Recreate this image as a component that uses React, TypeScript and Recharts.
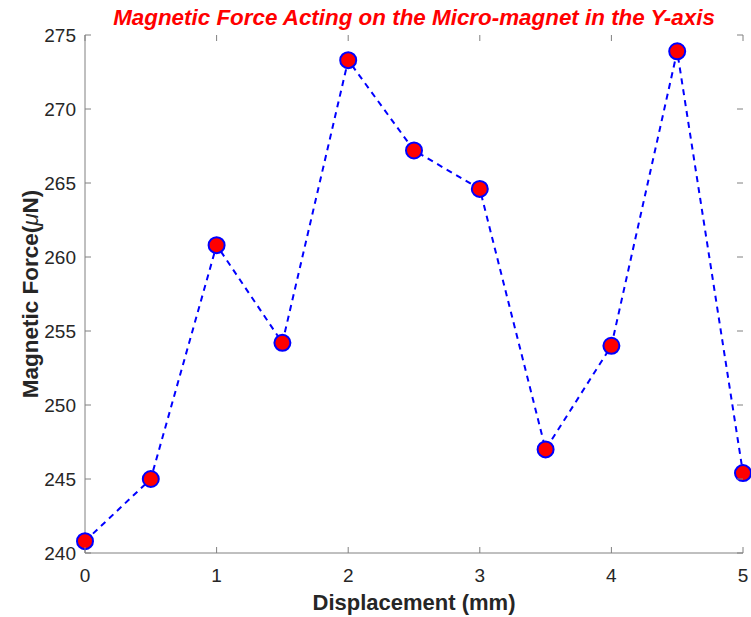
import { Label, Line, LineChart, XAxis, YAxis } from "recharts"

const displacement = [0, 0.5, 1, 1.5, 2, 2.5, 3, 3.5, 4, 4.5, 5]
const force = [240.8, 245.0, 260.8, 254.2, 273.3, 267.2, 264.6, 247.0, 254.0, 273.9, 245.4]
const xTicks = [0, 1, 2, 3, 4, 5]
const yTicks = [240, 245, 250, 255, 260, 265, 270, 275]

const data = displacement.map((d, i) => ({ d, f: force[i] }))

const W = 751
const H = 617
const LEFT = 85
const TOP = 35
const RIGHT = 8
const BOTTOM = 64
const PW = W - LEFT - RIGHT
const PH = H - TOP - BOTTOM
const AXIS = "#808080"
const TEXT = "#262626"
const FONT = "'Liberation Sans', Arial, Helvetica, sans-serif"

function XTick(props: any) {
  const { x, y, payload } = props
  return (
    <g>
      <line x1={x} y1={y} x2={x} y2={y - 6} stroke={AXIS} />
      <line x1={x} y1={y - PH} x2={x} y2={y - PH + 6} stroke={AXIS} />
      <text x={x} y={y + 29} textAnchor="middle" fill={TEXT} fontSize={19} fontFamily={FONT}>
        {payload.value}
      </text>
    </g>
  )
}

function YTick(props: any) {
  const { x, y, payload } = props
  return (
    <g>
      <line x1={x} y1={y} x2={x + 6} y2={y} stroke={AXIS} />
      <line x1={x + PW} y1={y} x2={x + PW - 6} y2={y} stroke={AXIS} />
      <text x={x - 9} y={y + 7} textAnchor="end" fill={TEXT} fontSize={19} fontFamily={FONT}>
        {payload.value}
      </text>
    </g>
  )
}

export default function App() {
  return (
    <div style={{ position: "absolute", left: 0, top: 0, width: W, height: H, background: "#fff" }}>
      <div
        style={{
          position: "absolute",
          left: LEFT,
          width: PW,
          top: 5,
          textAlign: "center",
          color: "#ff0000",
          fontFamily: FONT,
          fontWeight: "bold",
          fontStyle: "italic",
          fontSize: 22.4,
          lineHeight: "26px",
        }}
      >
        Magnetic Force Acting on the Micro-magnet in the Y-axis
      </div>
      <LineChart width={W} height={H} data={data} margin={{ top: TOP, right: RIGHT, left: 0, bottom: 0 }}>
        <XAxis
          dataKey="d"
          type="number"
          domain={[0, 5]}
          ticks={xTicks}
          height={BOTTOM}
          tickSize={0}
          tickMargin={0}
          tickLine={false}
          axisLine={{ stroke: AXIS }}
          tick={<XTick />}
          interval={0}
        >
          <Label
            content={() => (
              <text x={LEFT + PW / 2} y={610} textAnchor="middle" fill={TEXT} fontSize={22} fontWeight="bold" fontFamily={FONT}>
                Displacement (mm)
              </text>
            )}
          />
        </XAxis>
        <XAxis xAxisId="top" orientation="top" dataKey="d" type="number" domain={[0, 5]} height={0} tick={false} tickLine={false} axisLine={{ stroke: AXIS }} />
        <YAxis
          type="number"
          domain={[240, 275]}
          ticks={yTicks}
          width={LEFT}
          tickSize={0}
          tickMargin={0}
          tickLine={false}
          axisLine={{ stroke: AXIS }}
          tick={<YTick />}
          interval={0}
        >
          <Label
            content={() => (
              <text
                x={38}
                y={TOP + PH / 2}
                transform={`rotate(-90 38 ${TOP + PH / 2})`}
                textAnchor="middle"
                fill={TEXT}
                fontSize={22.5}
                fontWeight="bold"
                fontFamily={FONT}
              >
                Magnetic Force(<tspan fontStyle="italic" fontWeight="normal">μ</tspan>N)
              </text>
            )}
          />
        </YAxis>
        <YAxis yAxisId="right" orientation="right" domain={[240, 275]} width={0} tick={false} tickLine={false} axisLine={{ stroke: AXIS }} />
        <Line
          dataKey="f"
          type="linear"
          stroke="#0000ff"
          strokeWidth={2}
          strokeDasharray="6 5"
          dot={{ r: 8, fill: "#ff0000", stroke: "#0000ff", strokeWidth: 2, strokeDasharray: "0" }}
          activeDot={false}
          isAnimationActive={false}
        />
      </LineChart>
    </div>
  )
}
